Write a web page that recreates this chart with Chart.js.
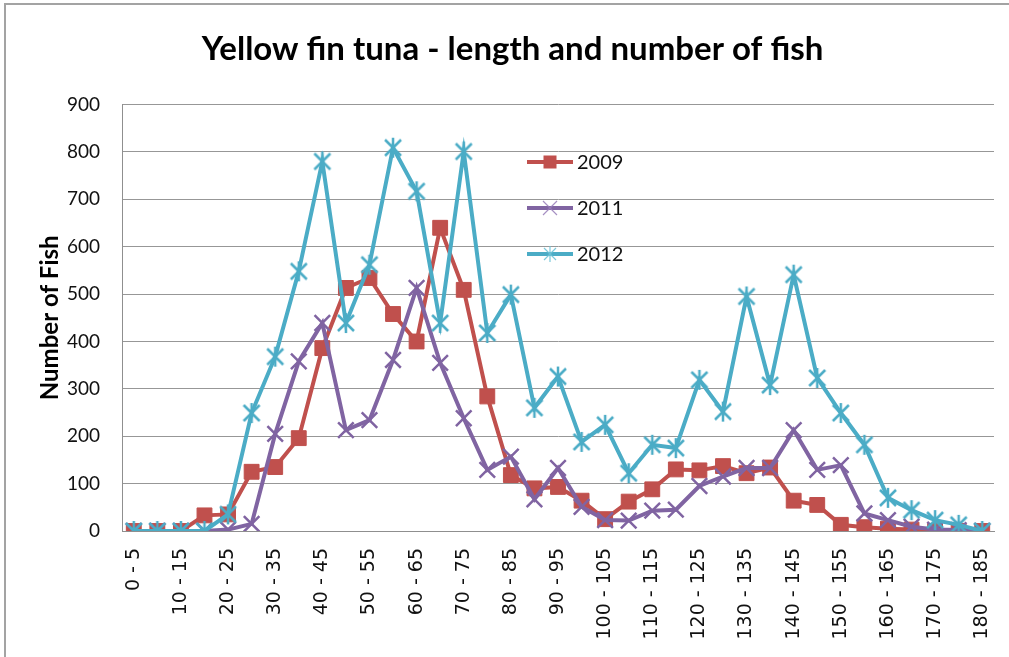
<!DOCTYPE html>
<html>
<head>
<meta charset="utf-8">
<script src="https://cdn.jsdelivr.net/npm/chart.js@4/dist/chart.umd.min.js"></script>
<style>
  html, body { margin: 0; padding: 0; background: #fff; }
  #wrap { position: relative; width: 1009px; height: 657px; overflow: hidden; }
  #c { position: absolute; left: 0; top: 0; }
  #frame { position: absolute; left: 4px; top: 3px; width: 1100px; height: 760px;
           border: 2px solid #a3a3a3; pointer-events: none; }
</style>
</head>
<body>
<div id="wrap">
  <canvas id="c" width="1009" height="657"></canvas>
  <div id="frame"></div>
</div>
<script>
// Length classes (cm)
const categories = [
  '0 - 5', '5 - 10', '10 - 15', '15 - 20', '20 - 25', '25 - 30', '30 - 35', '35 - 40',
  '40 - 45', '45 - 50', '50 - 55', '55 - 60', '60 - 65', '65 - 70', '70 - 75', '75 - 80',
  '80 - 85', '85 - 90', '90 - 95', '95 - 100', '100 - 105', '105 - 110', '110 - 115',
  '115 - 120', '120 - 125', '125 - 130', '130 - 135', '135 - 140', '140 - 145',
  '145 - 150', '150 - 155', '155 - 160', '160 - 165', '165 - 170', '170 - 175',
  '175 - 180', '180 - 185'
];

// Number of fish per length class
const fish2009 = [0, 0, 0, 33, 35, 125, 135, 196, 386, 513, 534, 458, 400, 640, 509, 284,
  118, 90, 93, 64, 25, 62, 88, 130, 128, 137, 122, 134, 64, 55, 13, 8, 5, 3, 0, 0, 0];
const fish2011 = [0, 0, 0, 0, 3, 15, 205, 358, 439, 213, 234, 361, 513, 355, 238, 129,
  157, 67, 133, 51, 23, 22, 43, 45, 95, 115, 133, 133, 213, 129, 139, 37, 23, 9, 3, 2, 0];
const fish2012 = [0, 0, 0, 0, 35, 249, 368, 548, 780, 439, 562, 809, 717, 439, 801, 418,
  499, 260, 326, 188, 224, 122, 182, 175, 319, 252, 495, 308, 541, 323, 249, 182, 70, 44, 23, 13, 0];

const seriesNames = ['2009', '2011', '2012'];
const yTicks = [0, 100, 200, 300, 400, 500, 600, 700, 800, 900];
const yTitle = 'Number of Fish';

const RED = '#C0504D', PURPLE = '#8064A2', TEAL = '#4BACC6';

// Asterisk marker: an X with a vertical stroke through it
function starMarker(size, color, lw) {
  const c = document.createElement('canvas');
  c.width = c.height = size;
  const g = c.getContext('2d');
  const m = size / 2, d = size / 2 - 3, v = size / 2 - 1;
  g.strokeStyle = color;
  g.lineWidth = lw;
  g.beginPath();
  g.moveTo(m - d, m - d); g.lineTo(m + d, m + d);
  g.moveTo(m + d, m - d); g.lineTo(m - d, m + d);
  g.moveTo(m, m - v); g.lineTo(m, m + v);
  g.stroke();
  return c;
}

// Vertical axis title
const axisTitle = {
  id: 'axisTitle',
  afterDraw(chart) {
    const ctx = chart.ctx;
    const a = chart.chartArea;
    ctx.save();
    ctx.translate(50, (a.top + a.bottom) / 2);
    ctx.rotate(-Math.PI / 2);
    ctx.fillStyle = '#000';
    ctx.font = 'bold 24px Lato';
    ctx.textAlign = 'center';
    ctx.textBaseline = 'middle';
    ctx.fillText(yTitle, 0, 0);
    ctx.restore();
  }
};

// Legend drawn inside the plot area
const innerLegend = {
  id: 'innerLegend',
  afterDatasetsDraw(chart) {
    const ctx = chart.ctx;
    const x0 = 527, x1 = 573, tx = 577;
    const rows = [162, 208, 254];
    ctx.save();
    chart.data.datasets.forEach((ds, i) => {
      const y = rows[i];
      const cx = (x0 + x1) / 2;
      ctx.strokeStyle = ds.borderColor;
      ctx.lineWidth = 4;
      ctx.lineCap = 'butt';
      ctx.beginPath(); ctx.moveTo(x0, y); ctx.lineTo(x1, y); ctx.stroke();
      if (i === 0) {
        ctx.fillStyle = ds.borderColor;
        ctx.fillRect(cx - 6.5, y - 6.5, 13, 13);
      } else if (i === 1) {
        ctx.strokeStyle = 'rgba(150,125,185,0.85)';
        ctx.lineWidth = 1.2;
        ctx.beginPath();
        ctx.moveTo(cx - 7, y - 7); ctx.lineTo(cx + 7, y + 7);
        ctx.moveTo(cx + 7, y - 7); ctx.lineTo(cx - 7, y + 7);
        ctx.stroke();
      } else {
        ctx.strokeStyle = 'rgba(110,195,215,0.9)';
        ctx.lineWidth = 1.2;
        ctx.beginPath();
        ctx.moveTo(cx - 6, y - 6); ctx.lineTo(cx + 6, y + 6);
        ctx.moveTo(cx + 6, y - 6); ctx.lineTo(cx - 6, y + 6);
        ctx.moveTo(cx, y - 8); ctx.lineTo(cx, y + 8);
        ctx.stroke();
      }
      ctx.fillStyle = '#111';
      ctx.font = '20px Lato';
      ctx.textAlign = 'left';
      ctx.textBaseline = 'middle';
      ctx.fillText(ds.label, tx, y + 1);
    });
    ctx.restore();
  }
};

new Chart(document.getElementById('c'), {
  type: 'line',
  data: {
    labels: categories,
    datasets: [
      {
        label: seriesNames[0], data: fish2009, order: 2,
        borderColor: RED, backgroundColor: RED, borderWidth: 4,
        pointStyle: 'rect', pointRadius: 10.5, pointBorderWidth: 1,
        pointBackgroundColor: RED, pointBorderColor: RED, tension: 0
      },
      {
        label: seriesNames[1], data: fish2011, order: 1,
        borderColor: PURPLE, backgroundColor: PURPLE, borderWidth: 4,
        pointStyle: 'crossRot', pointRadius: 11, pointBorderWidth: 2.5,
        pointBorderColor: PURPLE, tension: 0
      },
      {
        label: seriesNames[2], data: fish2012, order: 0,
        borderColor: TEAL, backgroundColor: TEAL, borderWidth: 4,
        pointStyle: starMarker(22, TEAL, 2.5), pointRadius: 11,
        tension: 0
      }
    ]
  },
  options: {
    responsive: false,
    animation: false,
    layout: { padding: { left: 28, right: 12, top: 0, bottom: 0 } },
    plugins: {
      legend: { display: false },
      tooltip: { enabled: false },
      title: {
        display: true,
        text: 'Yellow fin tuna - length and number of fish',
        color: '#000',
        font: { family: 'Lato', size: 33, weight: 'bold', lineHeight: 1.2 },
        padding: { top: 30, bottom: 35 }
      }
    },
    scales: {
      x: {
        type: 'category',
        offset: true,
        grid: { display: false, drawTicks: false },
        border: { display: true, color: '#8f8f8f', width: 1 },
        ticks: {
          autoSkip: false,
          minRotation: 90, maxRotation: 90,
          padding: 17,
          color: '#111',
          font: { family: 'DejaVu Sans', size: 19 },
          callback: function (value, index) {
            return index % 2 === 0 ? this.getLabelForValue(value) : '';
          }
        },
        afterFit: s => { s.height = 126; s.paddingLeft = 0; s.paddingRight = 0; }
      },
      y: {
        min: 0, max: 900,
        afterBuildTicks: s => { s.ticks = yTicks.map(v => ({ value: v })); },
        grid: { color: '#979797', lineWidth: 1, drawTicks: false },
        border: { display: true, color: '#8f8f8f', width: 1 },
        ticks: {
          padding: 22,
          color: '#111',
          font: { family: 'Lato', size: 19 }
        },
        afterFit: s => { s.width = 94; }
      }
    }
  },
  plugins: [innerLegend, axisTitle]
});
</script>
</body>
</html>
